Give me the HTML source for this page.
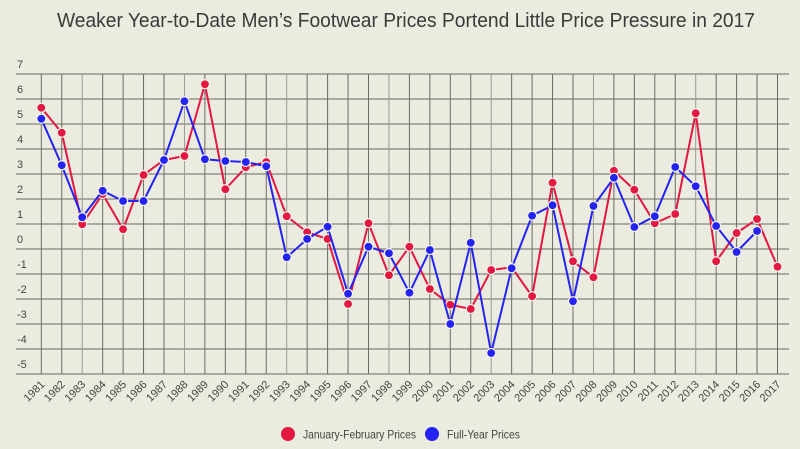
<!DOCTYPE html>
<html><head><meta charset="utf-8"><style>
html,body{margin:0;padding:0;background:#ecebe0;}
svg{display:block;font-family:"Liberation Sans",sans-serif;}
</style></head><body>
<svg id="chart" width="800" height="449" viewBox="0 0 800 449">
<rect width="800" height="449" fill="#ecebe0"/>
<text x="57" y="27" font-size="20" textLength="698" lengthAdjust="spacingAndGlyphs" fill="#3a3a3a">Weaker Year-to-Date Men’s Footwear Prices Portend Little Price Pressure in 2017</text>
<g id="grid"></g>
<g id="series"></g>
<g id="legend">
<g><circle cx="288" cy="434" r="7" fill="#e3173f"/><text x="303" y="438.5" font-size="12" textLength="113" lengthAdjust="spacingAndGlyphs" fill="#444">January-February Prices</text></g>
<g><circle cx="432" cy="434" r="7" fill="#2323f5"/><text x="447" y="438.5" font-size="12" textLength="73" lengthAdjust="spacingAndGlyphs" fill="#444">Full-Year Prices</text></g>
</g>
</svg>
<script>
const years=[1981,1982,1983,1984,1985,1986,1987,1988,1989,1990,1991,1992,1993,1994,1995,1996,1997,1998,1999,2000,2001,2002,2003,2004,2005,2006,2007,2008,2009,2010,2011,2012,2013,2014,2015,2016,2017];
const janFeb=[5.65,4.65,0.99,2.2,0.79,2.96,3.56,3.72,6.59,2.39,3.27,3.48,1.31,0.67,0.4,-2.2,1.03,-1.05,0.09,-1.6,-2.23,-2.4,-0.84,-0.73,-1.89,2.65,-0.49,-1.13,3.13,2.37,1.03,1.4,5.43,-0.49,0.64,1.2,-0.71];
const fullYear=[5.21,3.35,1.27,2.33,1.92,1.92,3.56,5.91,3.59,3.52,3.48,3.31,-0.33,0.4,0.89,-1.79,0.09,-0.17,-1.75,-0.04,-3.0,0.25,-4.16,-0.77,1.33,1.75,-2.09,1.72,2.85,0.88,1.31,3.28,2.51,0.92,-0.12,0.72];
const yTicks=[7,6,5,4,3,2,1,0,-1,-2,-3,-4,-5];
const NS="http://www.w3.org/2000/svg";
const x0=41.3,dx=20.45,yZero=249,unit=25,left=16,right=789;
function xs(i){return x0+i*dx;}
function ys(v){return yZero-v*unit;}
function mk(tag,attrs,parent){const e=document.createElementNS(NS,tag);for(const k in attrs)e.setAttribute(k,attrs[k]);parent.appendChild(e);return e;}
const grid=document.getElementById('grid');
yTicks.forEach(t=>{
  const l=mk('line',{x1:left,x2:right,y1:ys(t),y2:ys(t),stroke:'#6a6a64','stroke-width':1},grid);
  
  
  const tx=mk('text',{x:17,y:ys(t)-6,'font-size':11,fill:'#444'},grid);
  tx.textContent=t;
  
  
});
years.forEach((yr,i)=>{
  const l=mk('line',{x1:xs(i),x2:xs(i),y1:ys(7),y2:ys(-5),stroke:i%5==2?'#9a9a92':'#6a6a64','stroke-width':1},grid);
  
  
  const tx=mk('text',{x:xs(i)+4,y:ys(-5)+11,'font-size':11,fill:'#444','text-anchor':'end',transform:`rotate(-45 ${xs(i)+4} ${ys(-5)+11})`},grid);
  tx.textContent=yr;
  
  
});
const ser=document.getElementById('series');
function draw(vals,color,name){
  const g=mk('g',{},ser);
  
  
  const pts=vals.map((v,i)=>xs(i)+','+ys(v)).join(' ');
  const pl=mk('polyline',{points:pts,fill:'none',stroke:color,'stroke-width':2},g);
  
  
  vals.forEach((v,i)=>{
    const c=mk('circle',{cx:xs(i),cy:ys(v),r:4.5,fill:color,stroke:'#f4f3ec','stroke-width':1.2},g);
    
    
  });
}
draw(janFeb,'#e3173f','jan-feb');
draw(fullYear,'#2323f5','full-year');
</script>
</body></html>
